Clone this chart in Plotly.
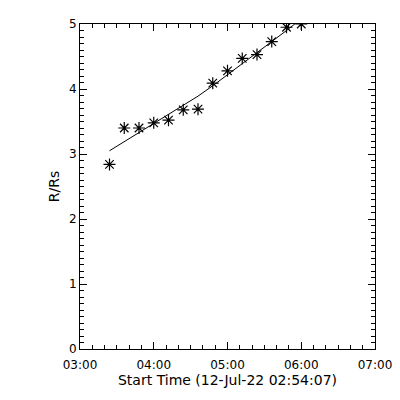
import plotly.graph_objects as go

times = ["2022-07-12 03:24:00", "2022-07-12 03:36:00", "2022-07-12 03:48:00",
         "2022-07-12 04:00:00", "2022-07-12 04:12:00", "2022-07-12 04:24:00",
         "2022-07-12 04:36:00", "2022-07-12 04:48:00", "2022-07-12 05:00:00",
         "2022-07-12 05:12:00", "2022-07-12 05:24:00", "2022-07-12 05:36:00",
         "2022-07-12 05:48:00", "2022-07-12 06:00:00"]
heights = [2.84, 3.40, 3.40, 3.48, 3.52, 3.68, 3.69, 4.09, 4.28, 4.47, 4.53, 4.73, 4.95, 5.0]
fit = [3.05, 3.19, 3.33, 3.47, 3.60, 3.75, 3.89, 4.05, 4.22, 4.39, 4.55, 4.72, 4.90, 5.08]

x_range = ["2022-07-12 03:00:00", "2022-07-12 07:00:00"]
x_title = "Start Time (12-Jul-22 02:54:07)"
y_title = "R/Rs"

fig = go.Figure()
fig.add_trace(go.Scatter(x=times, y=fit, mode="lines",
                         line=dict(color="black", width=1), showlegend=False))
fig.add_trace(go.Scatter(x=times, y=heights, mode="markers", cliponaxis=True,
                         marker=dict(symbol="asterisk", size=10, color="black",
                                     line=dict(color="black", width=1.2)),
                         showlegend=False))

font = dict(family="DejaVu Sans", size=12, color="black")
fig.update_layout(
    width=400, height=400,
    margin=dict(l=72, r=33, t=16, b=59),
    paper_bgcolor="white", plot_bgcolor="white",
    font=font,
    xaxis=dict(type="date", range=x_range, tickformat="%H:%M", dtick=3600000,
               tick0="2022-07-12 03:00:00", automargin=False,
               ticks="inside", ticklen=7, tickcolor="black", tickwidth=1,
               ticklabelstandoff=5,
               minor=dict(dtick=600000, ticks="inside", ticklen=4, tickcolor="black"),
               showline=True, linecolor="black", linewidth=1, mirror="allticks",
               showgrid=False, zeroline=False,
               title=dict(text=x_title, standoff=0), tickfont=font),
    yaxis=dict(range=[0, 5], dtick=1, ticks="inside", ticklen=7, tickcolor="black",
               automargin=False,
               minor=dict(dtick=0.1, ticks="inside", ticklen=4, tickcolor="black"),
               showline=True, linecolor="black", linewidth=1, mirror="allticks",
               showgrid=False, zeroline=False,
               title=dict(text=y_title, standoff=6), tickfont=font),
)
fig.write_html("out.html")
